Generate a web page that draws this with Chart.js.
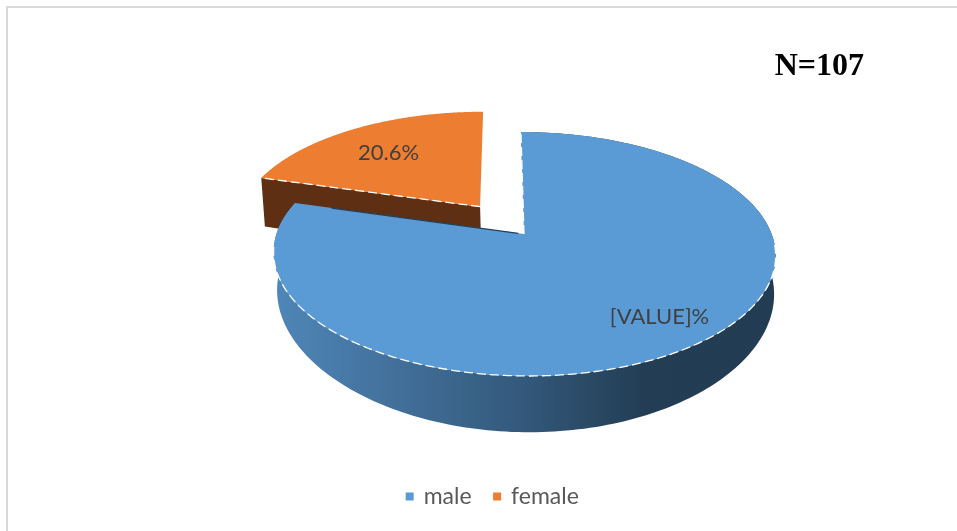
<!DOCTYPE html>
<html>
<head>
<meta charset="utf-8">
<script src="https://cdn.jsdelivr.net/npm/chart.js@4/dist/chart.umd.min.js"></script>
<style>
html,body{margin:0;padding:0;background:#fff;overflow:hidden}
#wrap{position:relative;width:957px;height:531px}
#frame{position:absolute;left:6px;top:6px;right:0;bottom:0;border-left:2px solid #d9d9d9;border-top:2px solid #d9d9d9}
canvas{position:absolute;left:0;top:0}
</style>
</head>
<body>
<div id="wrap"><div id="frame"></div><canvas id="c" width="957" height="531"></canvas></div>
<script>
const categories = ['male', 'female'];
const values = [79.4, 20.6];
const sliceLabels = ['[VALUE]%', '20.6%'];
const sliceColors = ['#5B9BD5', '#ED7D31'];
const chartTitle = 'N=107';

// perspective projection of the pie's unit disc
const CX = 524, CY = 234, B = 247.6, A = 118.7, P = 0.164, SHEAR = 0.03;
const EXPLODE = [0, 0.3];
const DEPTH_K = [1, 1.6];
const LABEL_POS = [[659.5, 316.5], [388.5, 153]];

function project(u, v, lower, k) {
  const w = 1 - P * v;
  let x = B * u / w, y = A * v / w;
  const sx = SHEAR * y;
  if (lower) { x = x * 0.99 + 1; y += k * 36 / (1 - 0.36 * v); }
  return [CX + x + sx, CY + y];
}

const pie3d = {
  id: 'pie3d',
  beforeDatasetDraw(chart) {
    const ctx = chart.ctx;
    const arcs = chart.getDatasetMeta(0).data;
    ctx.save();
    // back slice first, then the front slice
    for (let i = arcs.length - 1; i >= 0; i--) {
      const el = arcs[i], s = el.startAngle, e = el.endAngle, mid = (s + e) / 2;
      const ou = EXPLODE[i] * Math.cos(mid), ov = EXPLODE[i] * Math.sin(mid), k = DEPTH_K[i];
      const pt = (a, r, lower) => project(ou + r * Math.cos(a), ov + r * Math.sin(a), lower, k);
      const N = 240;
      const rim = [], rimLow = [];
      for (let j = 0; j <= N; j++) {
        const a = s + (e - s) * j / N;
        rim.push(pt(a, 1, false)); rimLow.push(pt(a, 1, true));
      }
      const poly = (pts) => { ctx.beginPath(); pts.forEach((p, n) => n ? ctx.lineTo(p[0], p[1]) : ctx.moveTo(p[0], p[1])); };
      let wallFill;
      if (i === 0) {
        const g = ctx.createLinearGradient(277, 0, 773, 0);
        g.addColorStop(0, '#4F86B8');
        g.addColorStop(0.5, '#33587A');
        g.addColorStop(0.74, '#233D54');
        g.addColorStop(1, '#223C53');
        wallFill = g;
      } else wallFill = '#5E2F12';
      ctx.fillStyle = wallFill;
      // outer wall (only the front slice shows one)
      if (i === 0) { poly(rim.concat(rimLow.slice().reverse())); ctx.closePath(); ctx.fill(); }
      // radial wall
      poly([pt(s, 0, false), pt(s, 1, false), pt(s, 1, true), pt(s, 0, true)]); ctx.closePath();
      ctx.fill();
      // top face
      poly([pt(s, 0, false)].concat(rim)); ctx.closePath();
      ctx.fillStyle = sliceColors[i]; ctx.fill();
      // white dashed edges
      ctx.strokeStyle = '#ffffff'; ctx.lineWidth = 1.3; ctx.setLineDash([9, 4]);
      poly([pt(s, 0, false), pt(s, 1, false)]); ctx.stroke();
      if (i === 0) {
        const front = [];
        for (let a = 0.09; a <= 3.06; a += 0.01) front.push(pt(a, 1, false));
        poly(front); ctx.stroke();
        ctx.setLineDash([]);
        // sliver of the radial wall seen edge on
        const a0 = pt(e, 0.02, false), a1 = pt(e, 0.83, false);
        ctx.strokeStyle = '#22405C'; ctx.lineWidth = 1.2;
        ctx.beginPath(); ctx.moveTo(a0[0] - 1, a0[1]); ctx.lineTo(a1[0] - 1, a1[1]); ctx.stroke();
      }
      ctx.setLineDash([]);
    }
    // slice labels
    ctx.fillStyle = '#404040';
    ctx.font = '22px Lato';
    ctx.textAlign = 'center';
    ctx.textBaseline = 'middle';
    sliceLabels.forEach((t, i) => ctx.fillText(t, LABEL_POS[i][0], LABEL_POS[i][1]));
    ctx.restore();
    return false;
  }
};

new Chart(document.getElementById('c'), {
  type: 'pie',
  data: {
    labels: categories,
    datasets: [{ data: values, backgroundColor: sliceColors, borderWidth: 0 }]
  },
  options: {
    responsive: false,
    animation: false,
    layout: { padding: { left: 122, right: 93, top: 48, bottom: 13 } },
    plugins: {
      tooltip: { enabled: false },
      title: {
        display: true, text: chartTitle, align: 'end', color: '#000000',
        font: { family: '"Liberation Serif"', size: 32, weight: 'bold' }, padding: 0
      },
      legend: {
        position: 'bottom',
        labels: {
          usePointStyle: true, pointStyle: 'rect', boxWidth: 5, boxHeight: 8, padding: 23,
          color: '#595959', font: { family: 'Lato', size: 23 }
        }
      }
    }
  },
  plugins: [pie3d]
});
</script>
</body>
</html>
